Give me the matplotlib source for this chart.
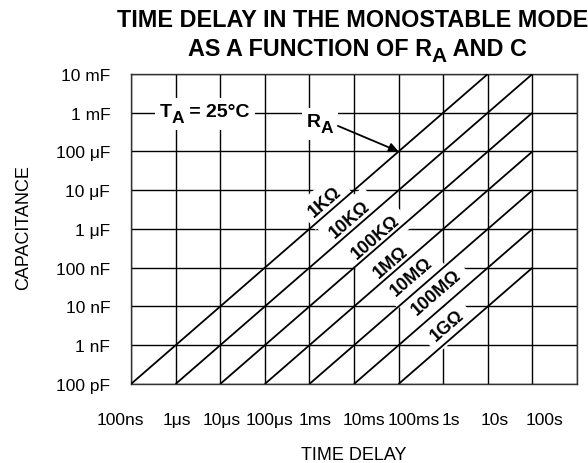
import numpy as np
import matplotlib

matplotlib.use("Agg")
import matplotlib.pyplot as plt
from matplotlib.patches import Rectangle
from matplotlib.transforms import Bbox, IdentityTransform, ScaledTranslation

plt.rcParams["font.family"] = ["Liberation Sans", "DejaVu Sans"]

# time axis (s) and capacitance axis (F), one tick per decade
time_ticks = [1e-7, 1e-6, 1e-5, 1e-4, 1e-3, 1e-2, 1e-1, 1, 10, 100]
time_labels = ["100ns", "1μs", "10μs", "100μs", "1ms", "10ms", "100ms",
               "1s", "10s", "100s"]
cap_ticks = [1e-10, 1e-9, 1e-8, 1e-7, 1e-6, 1e-5, 1e-4, 1e-3, 1e-2]
cap_labels = ["100 pF", "1 nF", "10 nF", "100 nF", "1 μF", "10 μF",
              "100 μF", "1 mF", "10 mF"]

# R_A curves (ohm), delay = R * C, drawn between C_min and the 100 s limit
r_values = [1e3, 1e4, 1e5, 1e6, 1e7, 1e8, 1e9]
r_labels = ["1KΩ", "10KΩ", "100KΩ", "1MΩ", "10MΩ", "100MΩ", "1GΩ"]
c_min, c_max, t_max = 1e-10, 1e-2, 100.0

# where each curve label sits (log10 of time, log10 of capacitance)
label_logt = [-2.65, -2.09, -1.51, -1.17, -0.70, -0.16, 0.085]
label_logc = [-5.28, -5.74, -6.21, -6.83, -7.21, -7.63, -8.48]

# small horizontal nudges (px) of the time labels, as in the original sheet
xlabel_nudge = [-11, 1, 1, 5, 6, 10, 15, 8, 7, 12]

fig = plt.figure(figsize=(5.88, 4.64), dpi=100)
ax = fig.add_axes([0.2228, 0.1703, 0.7585, 0.6681])
ax.set_xscale("log")
ax.set_yscale("log")
ax.set_xlim(1e-7, 1e3)
ax.set_ylim(1e-10, 1e-2)

ax.set_xticks(time_ticks + [1e3])
ax.set_xticklabels(time_labels + [""], fontsize=12.5)
ax.set_yticks(cap_ticks)
ax.set_yticklabels(cap_labels, fontsize=12.5)
ax.minorticks_off()
ax.tick_params(axis="x", length=0, pad=20)
ax.tick_params(axis="y", length=0, pad=15)
for lab, dx in zip(ax.get_xticklabels(), xlabel_nudge + [0]):
    lab.set_transform(lab.get_transform()
                      + ScaledTranslation(dx / 100, 0, fig.dpi_scale_trans))
ax.grid(True, which="major", color="black", linewidth=1.0)
ax.set_axisbelow(True)
for s in ax.spines.values():
    s.set_linewidth(1.0)
    s.set_color("#333333")

# delay lines
for r in r_values:
    c_hi = min(c_max, t_max / r)
    cs = np.array([c_min, c_hi])
    ax.plot(r * cs, cs, color="black", linewidth=1.3, zorder=3,
            solid_capstyle="butt")

# angle of a slope-1 line on screen
p0 = ax.transData.transform((1e-3, 1e-6))
p1 = ax.transData.transform((1e-2, 1e-5))
angle = np.degrees(np.arctan2(p1[1] - p0[1], p1[0] - p0[0]))

for lab, lt, lc in zip(r_labels, label_logt, label_logc):
    ax.text(10 ** lt, 10 ** lc, lab, rotation=angle, rotation_mode="anchor",
            ha="center", va="center", fontsize=13, fontweight="bold",
            zorder=2,
            bbox=dict(boxstyle="square,pad=0.4", fc="white", ec="none"))


def sub_text(first, sub, rest, size, sub_size, drop):
    """Write first + lowered subscript + rest, chained after a Text."""
    t2 = ax.annotate(sub, xy=(1, 0), xycoords=first, xytext=(0, -drop),
                     textcoords="offset points", ha="left", va="bottom",
                     fontsize=sub_size, fontweight="bold", zorder=4,
                     annotation_clip=False)
    t3 = ax.annotate(rest, xy=(1, 0), xycoords=(t2, first), ha="left",
                     va="bottom", fontsize=size, fontweight="bold", zorder=4,
                     annotation_clip=False)
    return [first, t2, t3]


t = ax.text(10 ** -6.35, 10 ** -3.084, "T", ha="left", va="baseline",
            fontsize=14, fontweight="bold", zorder=4)
ta_parts = sub_text(t, "A", " = 25°C", 14, 12.5, 3.5)

t = ax.text(10 ** -3.054, 10 ** -3.334, "R", ha="left", va="baseline",
            fontsize=14, fontweight="bold", zorder=4)
ra_parts = sub_text(t, "A", "", 14, 12.5, 3.5)

ax.annotate("", xy=(1e-1, 1e-4), xytext=(10 ** -2.36, 10 ** -3.34),
            arrowprops=dict(arrowstyle="-|>", color="black", lw=1.3,
                            mutation_scale=14, shrinkA=0, shrinkB=0),
            zorder=4)

fig.text(0.5995, 0.956, "TIME DELAY IN THE MONOSTABLE MODE", ha="center",
         va="center", fontsize=16.8, fontweight="bold")
t = fig.text(0.3197, 0.8793, "AS A FUNCTION OF R", ha="left",
             va="baseline", fontsize=16.8, fontweight="bold")
sub_text(t, "A", " AND C", 16.8, 15, 3.5)

fig.text(0.041, 0.509, "CAPACITANCE", rotation=90, ha="center",
         va="center", fontsize=13)
fig.text(0.601, 0.019, "TIME DELAY", ha="center", va="center", fontsize=13)

# white patches behind the two inline labels, so the grid breaks there
fig.canvas.draw()
rend = fig.canvas.get_renderer()
for parts, pad in [(ta_parts, 5), (ra_parts, 5)]:
    bb = Bbox.union([p.get_window_extent(rend) for p in parts
                     if p.get_text()])
    ax.add_patch(Rectangle((bb.x0 - pad, bb.y0 - pad), bb.width + 2 * pad,
                           bb.height + 2 * pad, transform=IdentityTransform(),
                           facecolor="white", edgecolor="none", zorder=1.9,
                           clip_on=False))

fig.savefig("out.png", dpi=100, facecolor="white")
